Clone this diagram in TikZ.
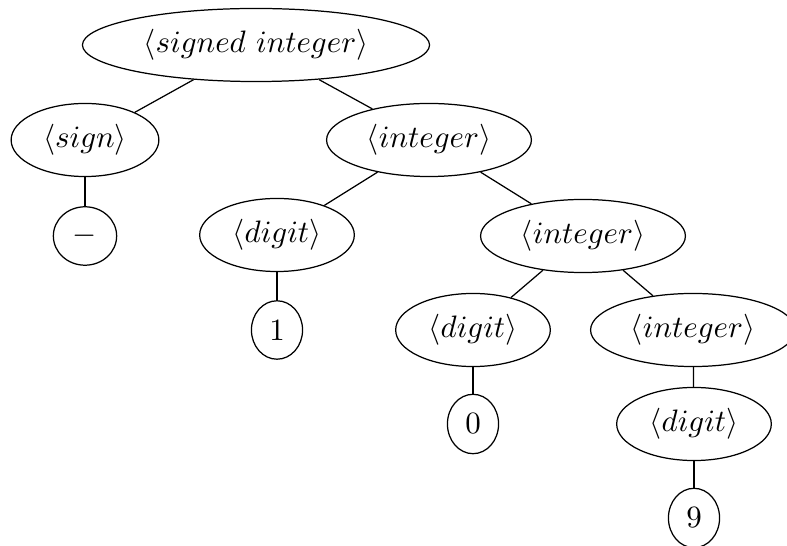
\documentclass[tikz,border=0pt]{standalone}
\usetikzlibrary{shapes.geometric}
\begin{document}
\begin{tikzpicture}[x=0.3226pt,y=-0.3226pt,
  tn/.style={draw,ellipse,line width=0.4pt},
  edge/.style={line width=0.4pt}]
\useasboundingbox (0,0) rectangle (787,546);
\begin{scope}
\clip (0,0) rectangle (787,546);
\node[tn] (si) at (256,45) {$\langle signed\ integer\rangle$};
\node[tn] (sg) at (85,140) {$\langle sign\rangle$};
\node[tn] (i1) at (429,140) {$\langle integer\rangle$};
\node[tn] (mn) at (85,236) {$-$};
\node[tn] (d1) at (277,235) {$\langle digit\rangle$};
\node[tn] (i2) at (583,236) {$\langle integer\rangle$};
\node[tn] (one) at (277,330) {1};
\node[tn] (d2) at (473,330) {$\langle digit\rangle$};
\node[tn] (i3) at (693,330) {$\langle integer\rangle$};
\node[tn] (zero) at (473,424) {0};
\node[tn] (d3) at (694,424) {$\langle digit\rangle$};
\node[tn] (nine) at (694,518) {9};
\draw[edge] (si) -- (sg);
\draw[edge] (si) -- (i1);
\draw[edge] (sg) -- (mn);
\draw[edge] (i1) -- (d1);
\draw[edge] (i1) -- (i2);
\draw[edge] (d1) -- (one);
\draw[edge] (i2) -- (d2);
\draw[edge] (i2) -- (i3);
\draw[edge] (d2) -- (zero);
\draw[edge] (i3) -- (d3);
\draw[edge] (d3) -- (nine);
\end{scope}
\end{tikzpicture}
\end{document}
